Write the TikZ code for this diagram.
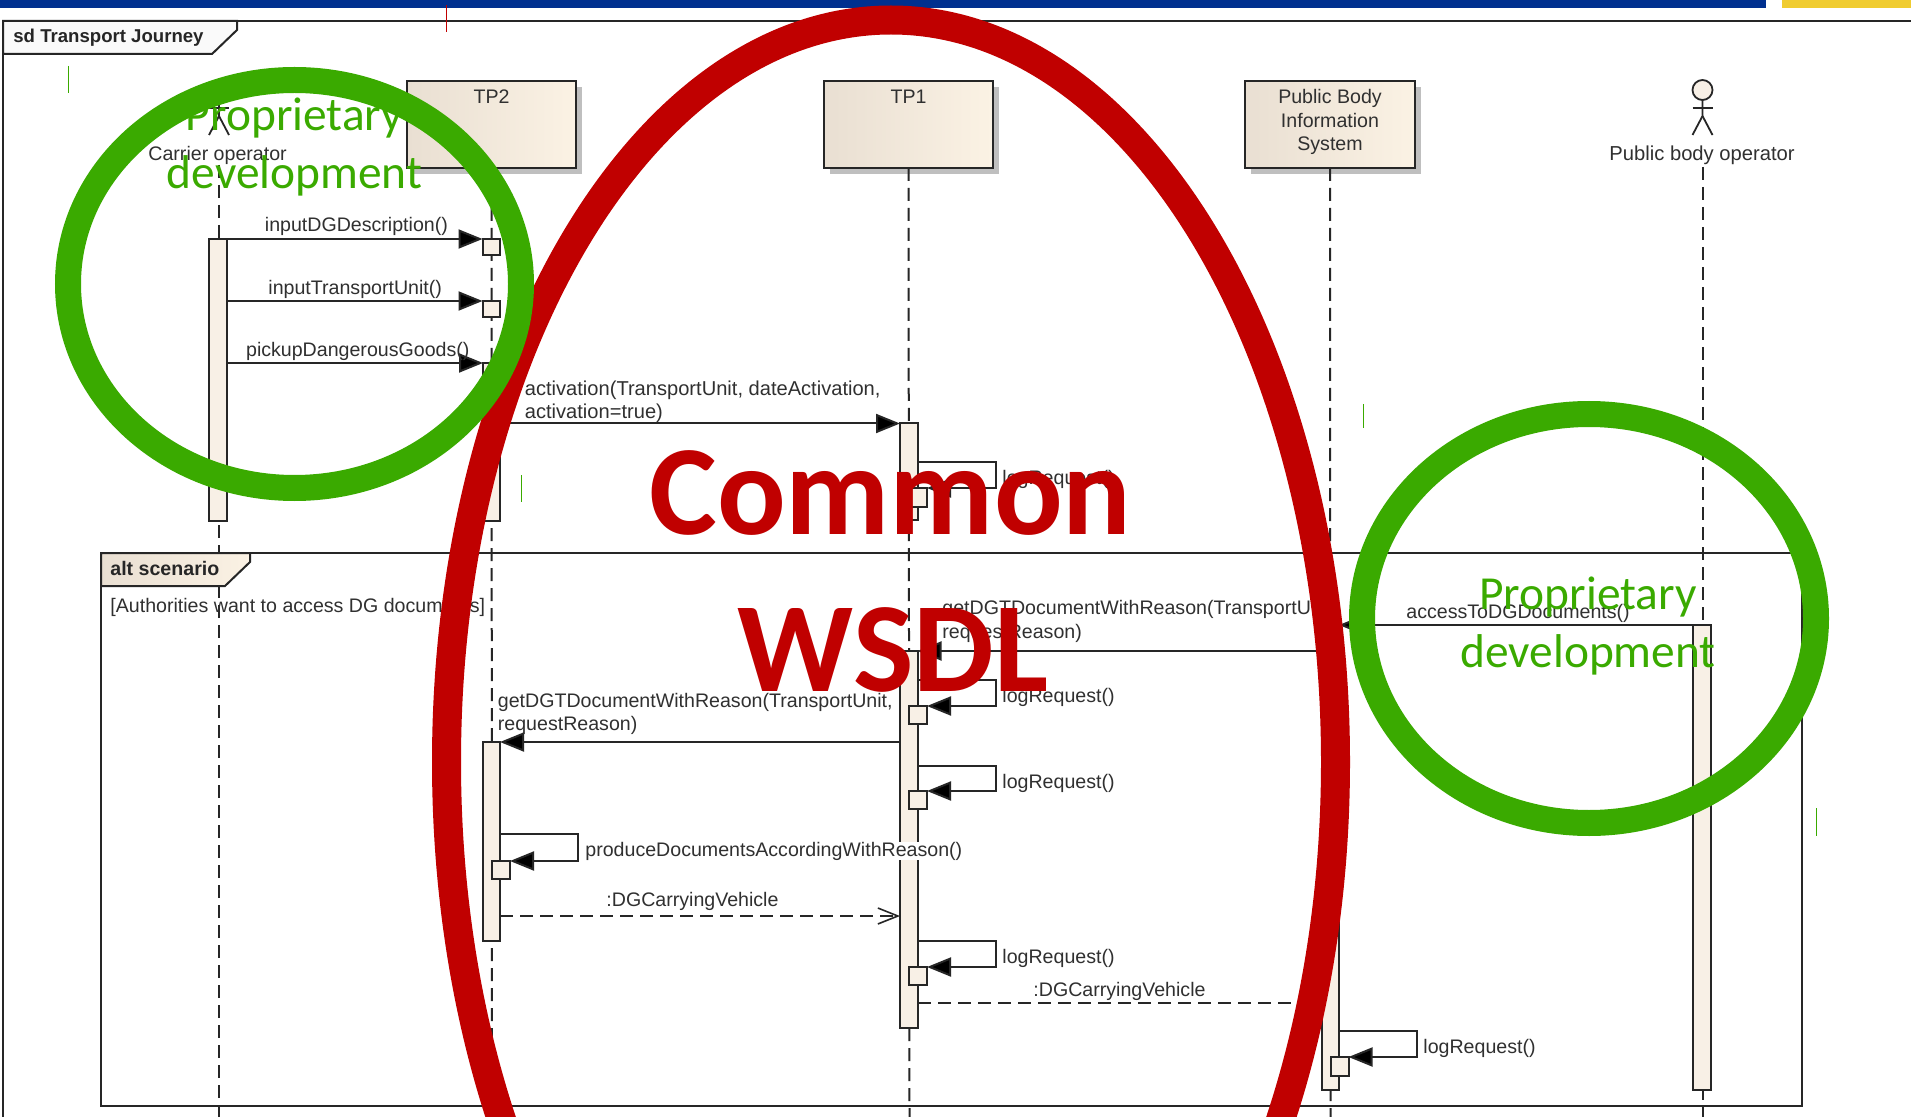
\documentclass[tikz,border=0pt]{standalone}
\usepackage{fontspec}
\setmainfont{Liberation Sans}
\newfontfamily\calib{Carlito}
\usetikzlibrary{arrows.meta,shadows,calc}
\definecolor{cream}{HTML}{F8F0E6}
\definecolor{ink}{HTML}{262626}
\definecolor{txt}{HTML}{303030}
\definecolor{wsdlred}{HTML}{C00000}
\definecolor{propgreen}{HTML}{3AAA00}
\definecolor{barblue}{HTML}{00308F}
\definecolor{baryellow}{HTML}{F0CC30}
\definecolor{gradl}{HTML}{E9DFD2}
\definecolor{gradr}{HTML}{FBF2E4}
\tikzset{
  ln/.style={draw=ink,line width=1pt},
  life/.style={draw=ink,line width=1pt,dash pattern=on 6.5pt off 3.5pt},
  actbar/.style={draw=ink,line width=1pt,fill=cream,inner sep=0pt,outer sep=0pt,anchor=north west},
  objbox/.style={draw=ink,line width=1.2pt,left color=gradl,right color=gradr,inner sep=0pt,outer sep=0pt,anchor=north west,
     drop shadow={shadow xshift=3pt,shadow yshift=-3pt,fill=black!25,opacity=1}},
  msg/.style={ln,-{Triangle[length=12pt,width=9.5pt,fill=black]}},
  ret/.style={draw=ink,line width=1pt,dash pattern=on 6.5pt off 3.5pt,-{Straight Barb[length=10pt,width=8pt,line width=0.8pt,sharp]}},
  lab/.style={text=txt,font=\fontsize{9.8}{11.5}\selectfont,inner sep=0pt,anchor=base west,align=left,yshift=-0.5pt},
  lbox/.style={text=txt,font=\fontsize{9.8}{11.5}\selectfont,inner sep=0pt,align=center},
  blab/.style={text=ink,font=\fontsize{9.3}{11}\selectfont\bfseries,inner sep=0pt,anchor=base west},
  oval/.style={draw=propgreen,line width=13pt},
  bigt/.style={text=wsdlred,font=\calib\fontsize{64}{78.5}\selectfont\bfseries,inner sep=0pt,anchor=base},
  gtxt/.style={text=propgreen,font=\calib\fontsize{23.7}{29.5}\selectfont,inner sep=0pt,anchor=base},
  tick/.style={line width=0.5pt}
}
\newcommand{\abar}[5]{\node[actbar,minimum width={(#4-#2)*0.5pt},minimum height={(#5-#3)*0.5pt}] (#1) at (#2,#3) {};}
\newcommand{\obox}[5]{\node[objbox,minimum width={(#4-#2)*0.5pt},minimum height={(#5-#3)*0.5pt}] (#1) at (#2,#3) {};}
\newcommand{\stick}[2]{%
  \node[draw=ink,line width=0.9pt,fill=cream,circle,minimum size=10pt,inner sep=0pt,outer sep=0pt] (#1) at (#2,90) {};
  \draw[draw=ink,line width=0.9pt] (#1.south) -- ++(0,16) coordinate (#1hip) -- ++(-10,19);
  \draw[draw=ink,line width=0.9pt] (#1hip) -- ++(10,19);
  \draw[draw=ink,line width=0.9pt] ($(#1.south)+(-10,8)$) -- ++(20,0);}
\begin{document}
\begin{tikzpicture}[x=0.5pt,y=-0.5pt]
\useasboundingbox (0,0) rectangle (1911,1117);
\clip (0,0) rectangle (1911,1117);
\fill[white] (0,0) rectangle (1911,1117);
% header bars
\fill[barblue] (0,0) rectangle (1766,8.5);
\fill[baryellow] (1782,0) rectangle (1911,8.5);
% outer frame
\draw[ln] (1911,21) -- (3,21) -- (3,1117);
\draw[ln,fill=white!98!black] (3,21) -- (237,21) -- (237,30) -- (212,54) -- (3,54) -- cycle;
\node[blab] (sdt) at (13,43) {sd Transport Journey};
% objects
\obox{tp2}{407}{81}{576}{168}
\obox{tp1}{824}{81}{993}{168}
\obox{pbis}{1245}{81}{1415}{168}
\node[lbox] (tp2t) at (491.5,97) {TP2};
\node[lbox] (tp1t) at (908.5,97) {TP1};
\node[lbox,font=\fontsize{9.8}{11.6}\selectfont] (pbist) at (1330,122) {Public Body\\Information\\System};
% actors
\stick{carrier}{219}
\stick{pubop}{1702.5}
\node[lab] (carriert) at (148,160) {Carrier operator};
\node[lab,font=\fontsize{10.1}{11.5}\selectfont] (pubopt) at (1609,160) {Public body operator};
% lifelines
\coordinate (lcarrier) at (219,165);
\coordinate (lpub) at (1702.5,167);
\coordinate (e1) at (219,1117);
\coordinate (e2) at (492,1117);
\coordinate (e3) at (909.5,1117);
\coordinate (e4) at (1330.5,1117);
\coordinate (e5) at (1702.5,1117);
\draw[life] (lcarrier) -- (e1);
\draw[life] (tp2.south) -- (e2);
\draw[life] (tp1.south) -- (e3);
\draw[life] (pbis.south) -- (e4);
\draw[life] (lpub) -- (e5);
% alt frame
\draw[ln] (101,553) rectangle (1802,1106);
\draw[ln,left color=gradl,right color=gradr] (101,553) -- (250,553) -- (250,562) -- (225,586) -- (101,586) -- cycle;
\node[blab,font=\fontsize{9.8}{11}\selectfont\bfseries] (altt) at (110,575) {alt scenario};
\node[lab] (guard) at (110,611) {[Authorities want to access DG documents]};
% activation bars
\abar{ca}{209}{239}{226.5}{521}
\abar{t2a}{483}{363}{500}{521}
\abar{t2b}{483}{742}{500}{941}
\abar{t1a}{900}{423.5}{917.5}{520}
\abar{t1b}{900}{651}{917.5}{1028}
\abar{pb}{1322}{651}{1339}{1090}
\abar{pu}{1693}{625}{1711}{1090}
% squares
\abar{s1}{482.5}{239}{500}{255}
\abar{s2}{482.5}{301}{500}{317}
\abar{q1}{909}{488}{927}{507}
\abar{q2}{909}{706}{927}{724}
\abar{q3}{909}{791}{927}{809}
\abar{q4}{909}{967}{927}{985}
\abar{q5}{492}{861}{510}{879}
\abar{q6}{1331}{1057}{1348.5}{1076}
% messages
\draw[msg] (ca.north east) -- (s1.north west);
\draw[msg] (ca.east |- s2.north) -- (s2.north west);
\draw[msg] (ca.east |- t2a.north) -- (t2a.north west);
\draw[msg] (t2a.east |- t1a.north) -- (t1a.north west);
\draw[msg] (pu.north west) -- (pb.east |- pu.north);
\draw[msg] (pb.north west) -- (t1b.north east);
\draw[msg] (t1b.west |- t2b.north) -- (t2b.north east);
\coordinate (d1) at (500,916);
\coordinate (d2) at (900,916);
\coordinate (d3) at (918,1003);
\coordinate (d4) at (1322,1003);
\draw[ret] (d1) -- (d2);
\draw[ret] (d3) -- (d4);
% self calls
\coordinate (c1) at (996,462);
\coordinate (c2) at (996,680);
\coordinate (c3) at (996,766);
\coordinate (c4) at (996,941);
\coordinate (c5) at (578,834);
\coordinate (c6) at (1416.5,1031);
\draw[msg] (t1a.east |- c1) -- (c1) |- (q1.north east);
\draw[msg] (t1b.east |- c2) -- (c2) |- (q2.north east);
\draw[msg] (t1b.east |- c3) -- (c3) |- (q3.north east);
\draw[msg] (t1b.east |- c4) -- (c4) |- (q4.north east);
\draw[msg] (t2b.east |- c5) -- (c5) |- (q5.north east);
\draw[msg] (pb.east |- c6) -- (c6) |- (q6.north east);
% labels
\node[lab] (l1) at (264.5,231) {inputDGDescription()};
\node[lab] (l2) at (268,294) {inputTransportUnit()};
\node[lab] (l3) at (245.7,356) {pickupDangerousGoods()};
\node[lab,font=\fontsize{10.05}{11.5}\selectfont] (l4a) at (524.5,395) {activation(TransportUnit, dateActivation,};
\node[lab,font=\fontsize{10.05}{11.5}\selectfont] (l4b) at (524.5,418) {activation=true)};
\node[lab] (l5) at (1002,483) {logRequest()};
\node[lab] (l6a) at (942,613) {getDGTDocumentWithReason(TransportUnit,};
\node[lab] (l6b) at (942,637) {requestReason)};
\node[lab] (l7) at (1406,617) {accessToDGDocuments()};
\node[lab] (l8) at (1002,701) {logRequest()};
\node[lab] (l9a) at (497.5,706) {getDGTDocumentWithReason(TransportUnit,};
\node[lab] (l9b) at (497.5,729) {requestReason)};
\node[lab] (l10) at (1002,787) {logRequest()};
\node[lab,fill=white] (l11) at (585,855) {produceDocumentsAccordingWithReason()};
\node[lab] (l12) at (606,905) {:DGCarryingVehicle};
\node[lab] (l13) at (1002,962) {logRequest()};
\node[lab] (l14) at (1033,995) {:DGCarryingVehicle};
\node[lab] (l15) at (1423,1052) {logRequest()};
% stray ticks
\draw[tick,draw=wsdlred] (446,5) -- (446,32);
\draw[tick,draw=propgreen] (68.5,66) -- (68.5,93);
\draw[tick,draw=propgreen] (521.5,475) -- (521.5,502);
\draw[tick,draw=propgreen] (1363,404) -- (1363,428);
\draw[tick,draw=propgreen] (1816,808) -- (1816,836);
% ovals
\draw[draw=wsdlred,line width=14.5pt] (891,762) ellipse [x radius=444.5,y radius=742];
\draw[oval] (294.5,284) ellipse [x radius=226.5,y radius=204];
\draw[oval] (1589,618.5) ellipse [x radius=227,y radius=204.5];
% overlay text
\node[gtxt] (p1) at (294.5,131) {Proprietary};
\node[gtxt] (p2) at (294.5,189) {development};
\node[gtxt] (p3) at (1588,609) {Proprietary};
\node[gtxt] (p4) at (1588,667) {development};
\node[bigt] (w1) at (890.5,534) {Common};
\node[bigt] (w2) at (893,691) {WSDL};
\end{tikzpicture}
\end{document}
